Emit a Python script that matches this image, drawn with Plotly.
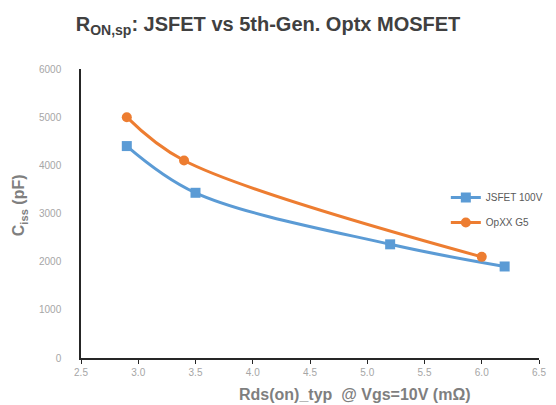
import plotly.graph_objects as go

jsfet_x = [2.9, 3.5, 5.2, 6.2]
jsfet_y = [4400, 3430, 2360, 1900]
opxx_x = [2.9, 3.4, 6.0]
opxx_y = [5000, 4100, 2100]

x_ticks = [2.5, 3.0, 3.5, 4.0, 4.5, 5.0, 5.5, 6.0, 6.5]
y_ticks = [0, 1000, 2000, 3000, 4000, 5000, 6000]

W, H = 556, 405
L, R, T, B = 81, 8, 69, 47
PW, PH = W - L - R, H - T - B

fig = go.Figure()
fig.add_trace(go.Scatter(
    x=jsfet_x, y=jsfet_y, name="JSFET 100V", mode="lines+markers",
    legendgroup="a",
    line=dict(color="#5B9BD5", width=3, shape="spline", smoothing=1.0),
    marker=dict(symbol="square", size=10, color="#5B9BD5")))
fig.add_trace(go.Scatter(
    x=opxx_x, y=opxx_y, name="OpXX G5", mode="lines+markers",
    legendgroup="b",
    line=dict(color="#ED7D31", width=3, shape="spline", smoothing=1.0),
    marker=dict(symbol="circle", size=10, color="#ED7D31")))

fig.update_layout(
    width=W, height=H,
    margin=dict(l=L, r=R, t=T, b=B),
    paper_bgcolor="white", plot_bgcolor="white",
    font=dict(family="Liberation Sans, Arial, sans-serif"),
    title=dict(text="<b>R<sub>ON,sp</sub>: JSFET vs 5th-Gen. Optx MOSFET</b>",
               x=268 / W, xanchor="center", y=1 - 24 / H, yanchor="middle",
               font=dict(size=20, color="#404040")),
    showlegend=True,
    legend=dict(x=(453 - L) / PW, y=(H - B - 210) / PH, xanchor="left", yanchor="middle",
                font=dict(size=10, color="#595959"),
                bgcolor="rgba(0,0,0,0)", tracegroupgap=6, itemwidth=30),
    xaxis=dict(range=[2.5, 6.5], tickvals=x_ticks,
               ticktext=[f"{v:.1f}" for v in x_ticks],
               showgrid=False, zeroline=False,
               showline=True, linecolor="#262626", linewidth=1.5,
               ticks="outside", ticklen=4, tickcolor="#262626",
               tickfont=dict(size=10, color="#a6a6a6")),
    yaxis=dict(range=[0, 6000], tickvals=y_ticks,
               showgrid=False, zeroline=False,
               showline=True, linecolor="#262626", linewidth=1.5,
               ticks="", ticklabelstandoff=16,
               tickfont=dict(size=10, color="#a6a6a6")),
    annotations=[
        dict(text="<b>Rds(on)_typ  @ Vgs=10V (mΩ)</b>", xref="paper", yref="paper",
             x=(360 - L) / PW, y=-(394 - (H - B)) / PH, xanchor="center", yanchor="middle",
             showarrow=False, font=dict(size=16, color="#7f7f7f")),
        dict(text="<b>C<sub>iss</sub> (pF)</b>", xref="paper", yref="paper",
             x=-(L - 18) / PW, y=(H - B - 205) / PH, xanchor="center", yanchor="middle",
             textangle=-90, showarrow=False, font=dict(size=16, color="#7f7f7f")),
    ],
)

fig.write_html("out.html", config={"displayModeBar": False},
               post_script="document.body.style.margin='0';document.body.style.padding='0';")
